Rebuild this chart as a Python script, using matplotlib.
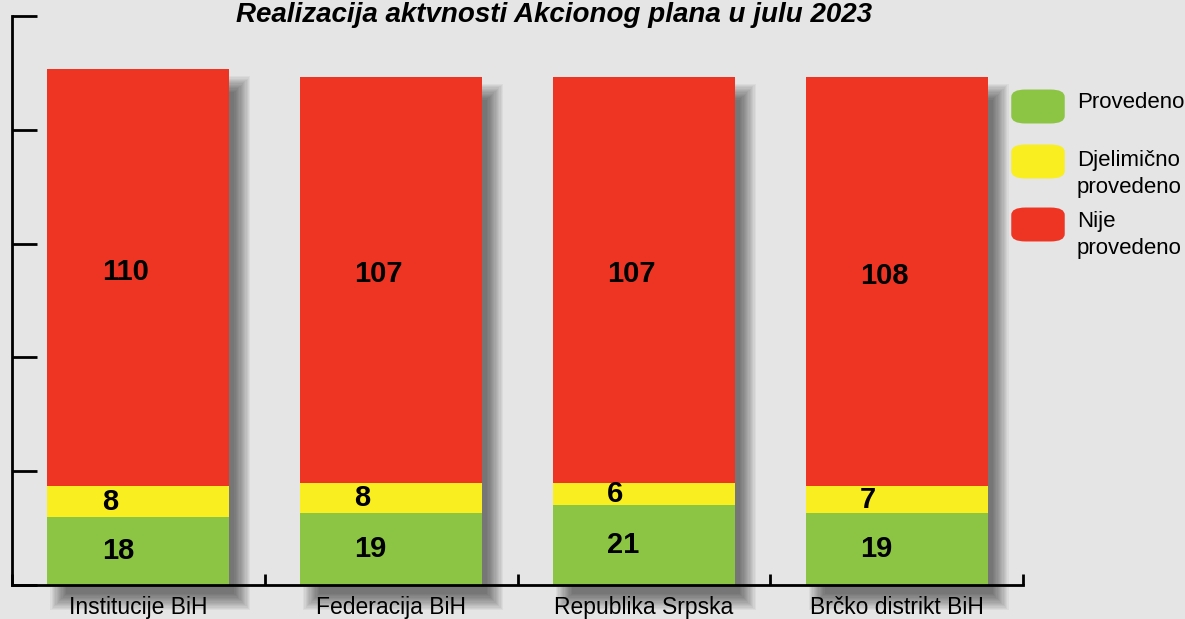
import numpy as np
import matplotlib.pyplot as plt
from matplotlib.patches import Rectangle, FancyBboxPatch
from matplotlib.transforms import IdentityTransform

# data
categories = ["Institucije BiH", "Federacija BiH", "Republika Srpska", "Brčko distrikt BiH"]
provedeno = [18, 19, 21, 19]
djelimicno = [8, 8, 6, 7]
nije = [110, 107, 107, 108]
series_names = ["Provedeno", "Djelimično\nprovedeno", "Nije\nprovedeno"]
colors = ["#8cc443", "#f9ee1f", "#ee3524"]

BG = "#e5e5e5"
NARROW = ["Liberation Sans Narrow", "Liberation Sans", "DejaVu Sans"]

fig = plt.figure(figsize=(11.85, 6.19), dpi=100, facecolor=BG)
ax = fig.add_axes([12 / 1185, 1 - 585 / 619, (1023 - 12) / 1185, (585 - 16) / 619])
ax.set_facecolor(BG)

x = np.arange(len(categories))
width = 0.72
ax.set_xlim(-0.5, len(categories) - 0.5)
ax.set_ylim(0, 150)

# blurred drop shadows behind bars, done in pixel space
totals = np.array(provedeno) + np.array(djelimicno) + np.array(nije)
dx, dy = 12, 16
for xi, tot in zip(x, totals):
    (x0, y0), (x1, y1) = ax.transData.transform([(xi - width / 2, 0), (xi + width / 2, tot)])
    for r in np.linspace(-7, 9, 14):
        ax.add_patch(Rectangle((x0 + dx - r, y0 - dy - r), (x1 - x0) + 2 * r, (y1 - y0) + 2 * r,
                               transform=IdentityTransform(), facecolor="black", alpha=0.045,
                               edgecolor="none", clip_on=False, zorder=1))

bottom = np.zeros(len(categories))
for k, (vals, col) in enumerate(zip([provedeno, djelimicno, nije], colors)):
    vals = np.array(vals)
    ax.bar(x, vals, width, bottom=bottom, color=col, edgecolor="none", zorder=2)
    lift = 1.5 if k == 2 else 0.0
    for xi, b, v in zip(x, bottom, vals):
        ax.text(xi - 0.145, b + v / 2 + lift, str(v), ha="left", va="center", fontsize=21,
                fontweight="bold", family=NARROW, zorder=3)
    bottom += vals

# axes styling
for s in ["top", "right"]:
    ax.spines[s].set_visible(False)
for s in ["left", "bottom"]:
    ax.spines[s].set_linewidth(2)
ax.set_yticks(np.arange(0, 151, 30))
ax.set_yticklabels([])
ax.tick_params(axis="y", direction="in", length=18, width=2)
ax.set_xticks(np.arange(-0.5, len(categories), 1.0))
ax.set_xticklabels([])
ax.tick_params(axis="x", direction="in", length=8, width=2)
ax.set_xticks(x, minor=True)
ax.set_xticklabels(categories, minor=True, fontsize=16.5, family=NARROW)
ax.tick_params(axis="x", which="minor", length=0, pad=8)

fig.text(554 / 1185, 1 - 2 / 619, "Realizacija aktvnosti Akcionog plana u julu 2023",
         ha="center", va="top", fontsize=20, fontweight="bold", fontstyle="italic",
         family=["Liberation Sans", "DejaVu Sans"])

# legend drawn by hand with rounded swatches
sw_tops = [90, 145, 208]
txt_centers = [103, 174, 235]
for top, ty, col, name in zip(sw_tops, txt_centers, colors, series_names):
    fig.patches.append(FancyBboxPatch((1016 / 1185, 1 - (top + 31) / 619), 44 / 1185, 29 / 619,
                                      boxstyle="round,pad=0.004,rounding_size=0.012",
                                      facecolor=col, edgecolor="none",
                                      transform=fig.transFigure, figure=fig))
    fig.text(1077 / 1185, 1 - ty / 619, name, ha="left", va="center", fontsize=16,
             family=NARROW, linespacing=1.4)

fig.savefig("out.png", dpi=100, facecolor=BG)
